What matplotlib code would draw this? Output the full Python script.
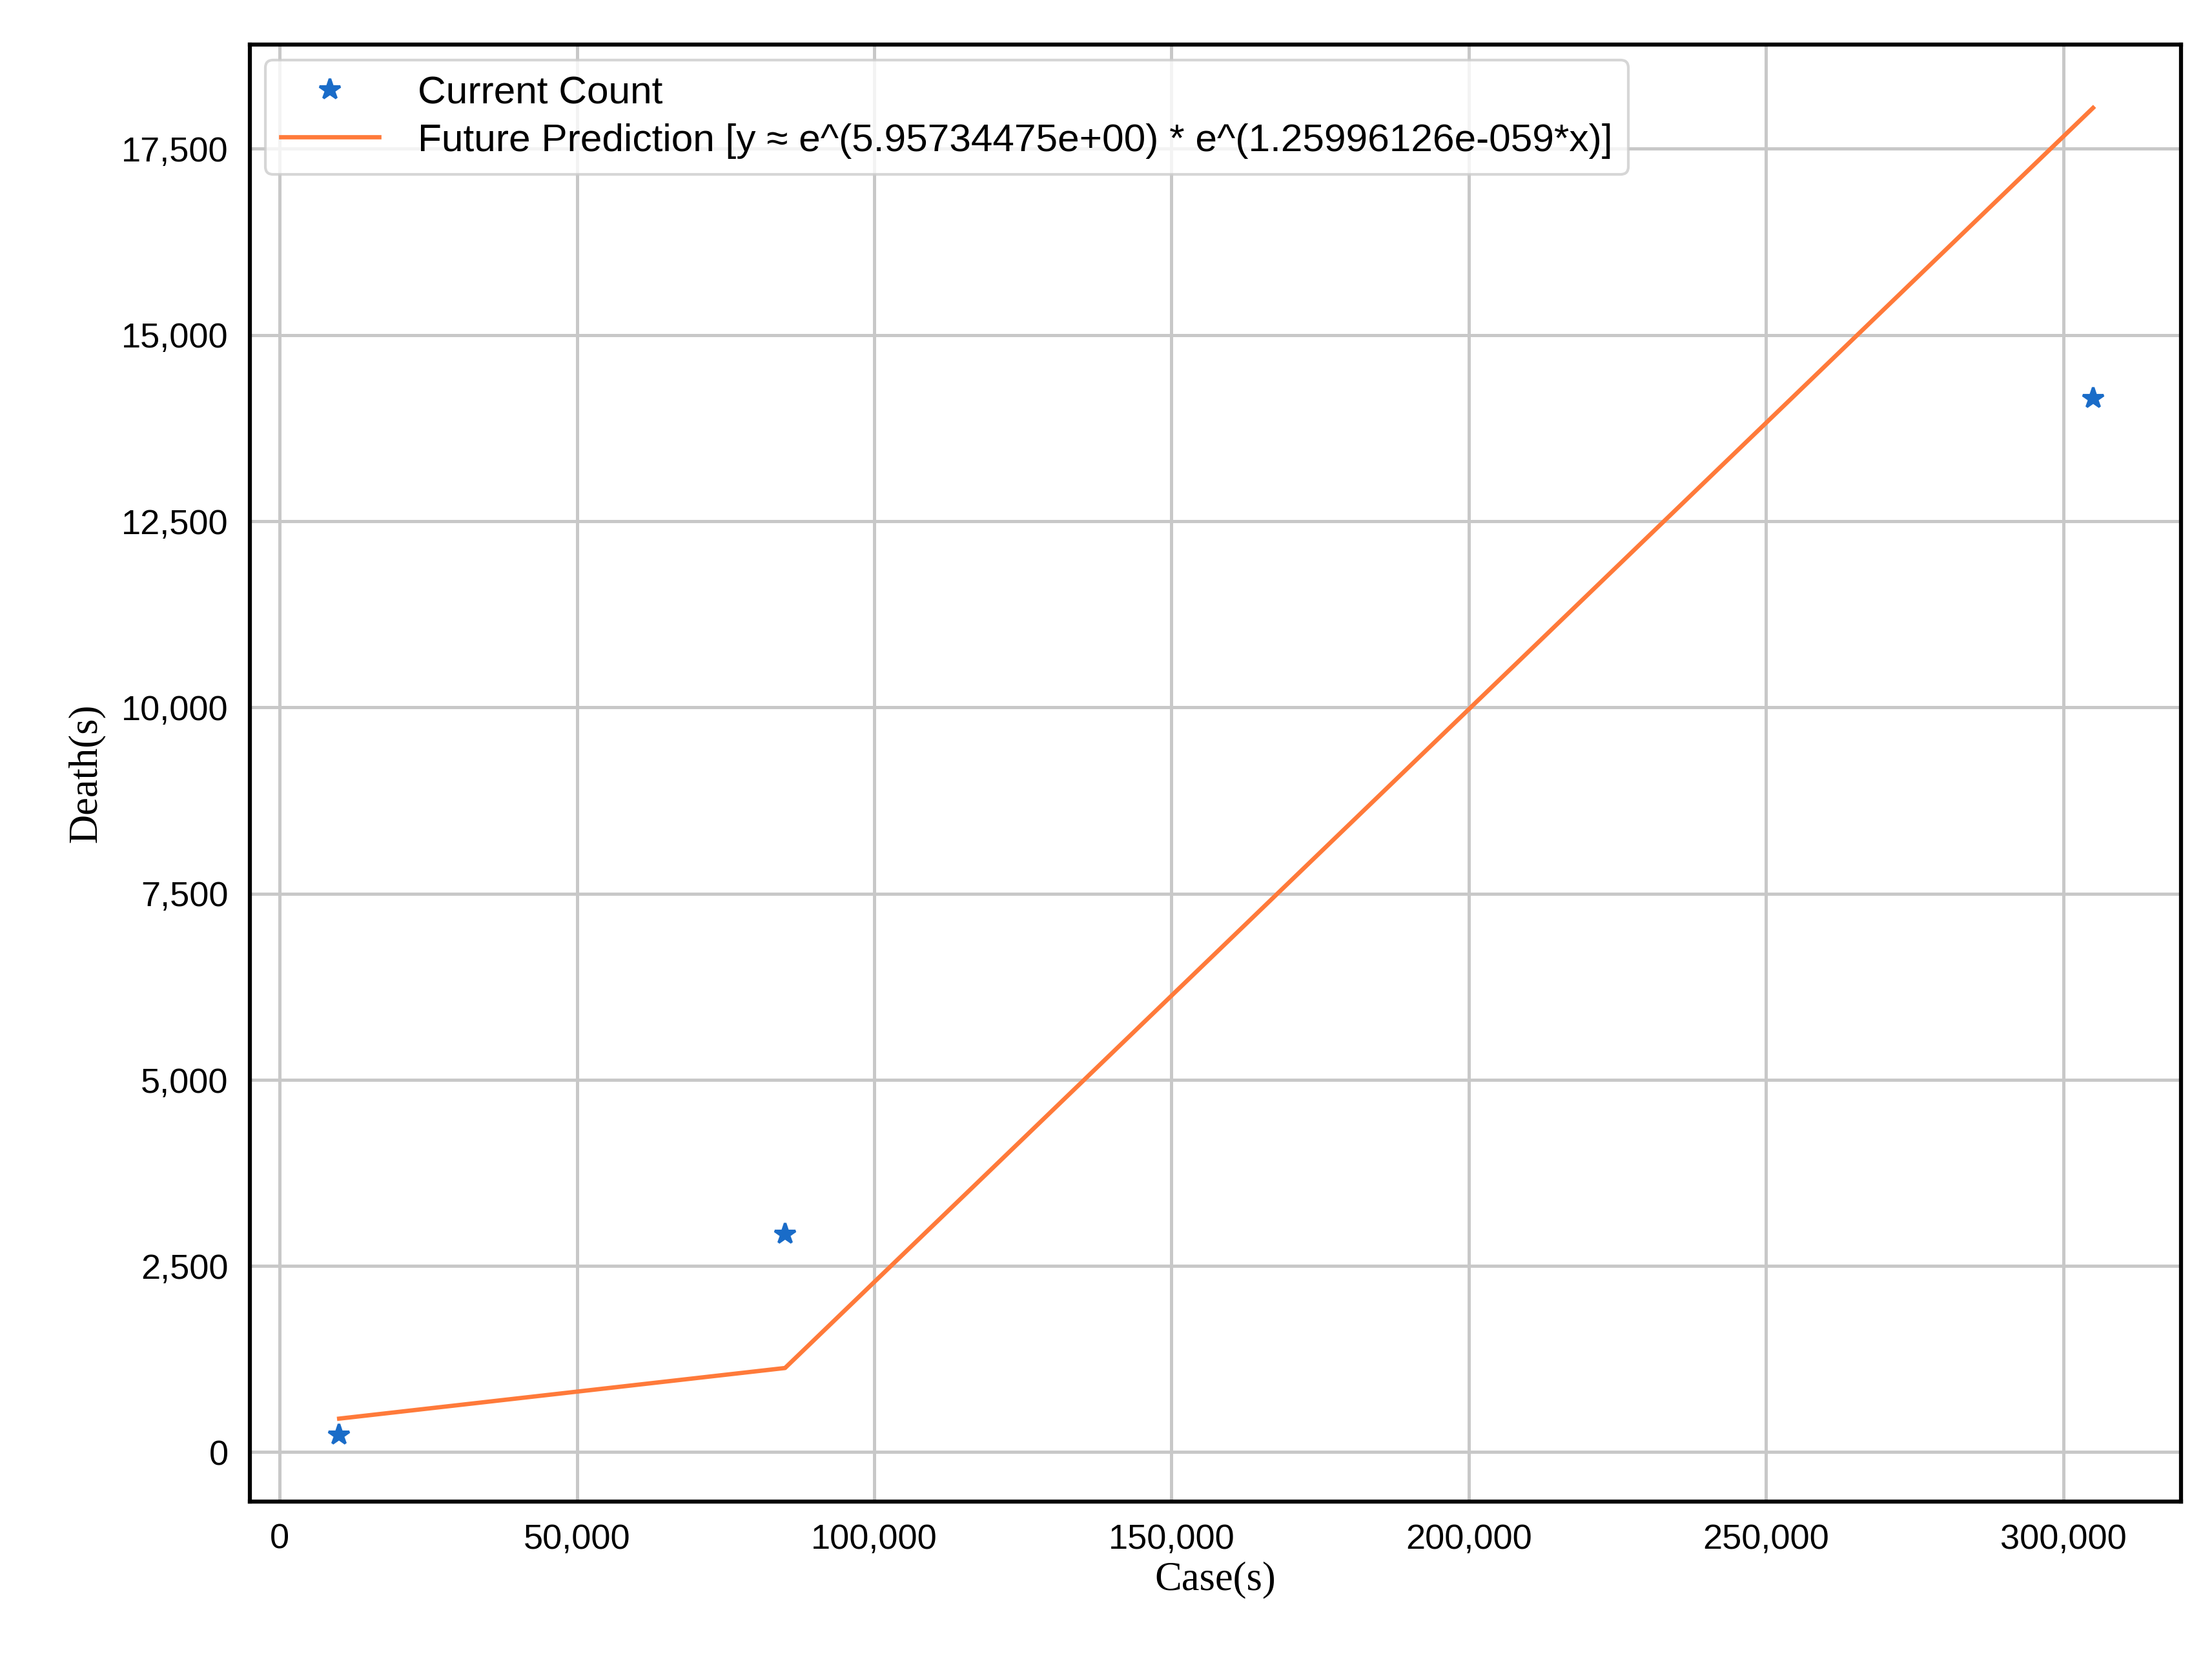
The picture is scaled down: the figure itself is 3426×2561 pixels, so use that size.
import matplotlib
matplotlib.use("Agg")
import matplotlib.pyplot as plt
from matplotlib.ticker import FuncFormatter

# data
cases = [10000, 85000, 305000]
deaths = [230, 2930, 14150]
pred = [450, 1130, 18050]

fig = plt.figure(figsize=(11.42, 8.537), dpi=300)
ax = fig.add_axes([0.113, 0.092, 0.873, 0.881])

ax.plot(cases, deaths, "*", color="#1a6cc8", markersize=8, linestyle="none",
        label="Current Count")
ax.plot(cases, pred, color="#ff7a3a", linewidth=1.6,
        label="Future Prediction [y \u2248 e^(5.95734475e+00) * e^(1.25996126e-059*x)]")

ax.set_xlim(-5000, 319800)
ax.set_ylim(-667, 18900)
ax.set_xticks(range(0, 300001, 50000))
ax.set_yticks(range(0, 17501, 2500))
fmt = FuncFormatter(lambda v, p: f"{int(v):,}")
ax.xaxis.set_major_formatter(fmt)
ax.yaxis.set_major_formatter(fmt)
ax.grid(True, color="#c8c8c8", linewidth=1.2)
ax.set_axisbelow(True)
for s in ax.spines.values():
    s.set_linewidth(1.5)
    s.set_color("black")
ax.tick_params(length=0, labelsize=13, pad=8)
for lab in ax.get_xticklabels() + ax.get_yticklabels():
    lab.set_family("Liberation Sans")

ax.set_xlabel("Case(s)", family="Liberation Serif", fontsize=15, labelpad=2)
ax.set_ylabel("Death(s)", family="Liberation Serif", fontsize=15, labelpad=6)

ax.legend(loc="upper left", prop={"family": "Liberation Sans", "size": 14.5},
          frameon=True, edgecolor="#cccccc", fancybox=True,
          borderaxespad=0.4, handlelength=2.5, handletextpad=1.0,
          labelspacing=0.3)

fig.savefig("out.png", dpi=300)
